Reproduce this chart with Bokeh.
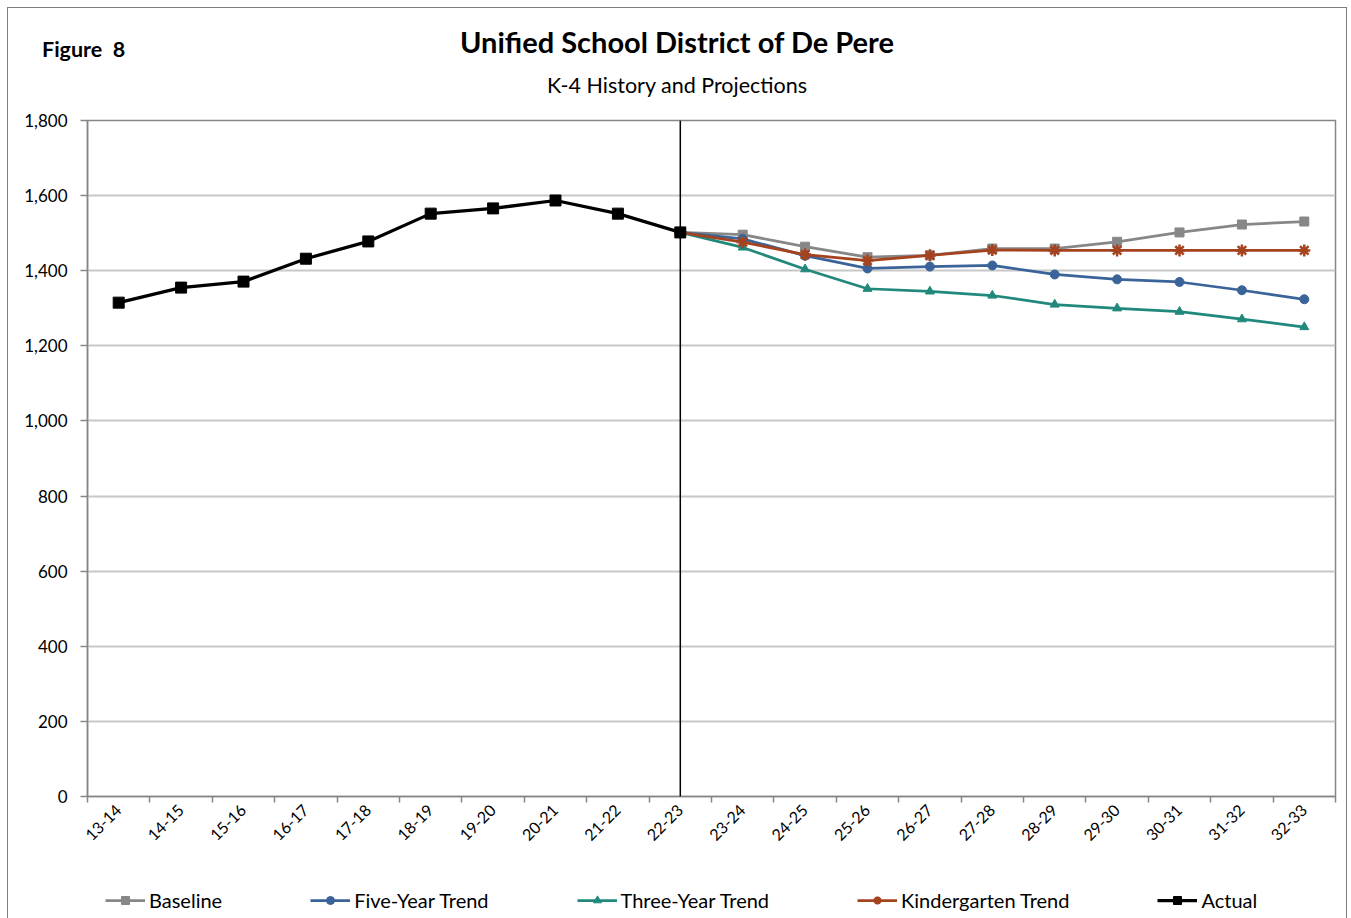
import numpy as np
from bokeh.plotting import figure
from bokeh.layouts import column
from bokeh.models import (FixedTicker, NumeralTickFormatter, Span, Legend,
                          LegendItem, Range1d, Div)
from bokeh.embed import file_html
from bokeh.resources import INLINE

categories = ["13-14", "14-15", "15-16", "16-17", "17-18", "18-19", "19-20",
              "20-21", "21-22", "22-23", "23-24", "24-25", "25-26", "26-27",
              "27-28", "28-29", "29-30", "30-31", "31-32", "32-33"]
actual = [1315, 1355, 1371, 1432, 1478, 1552, 1566, 1587, 1552, 1502]
proj_categories = categories[9:]
baseline = [1502, 1496, 1464, 1436, 1441, 1459, 1459, 1477, 1502, 1523, 1531]
five_year = [1502, 1485, 1440, 1406, 1411, 1414, 1390, 1377, 1370, 1348, 1324]
three_year = [1502, 1462, 1404, 1352, 1345, 1334, 1310, 1300, 1291, 1271, 1250]
kindergarten = [1502, 1476, 1443, 1427, 1441, 1455, 1454, 1454, 1454, 1454, 1454]
y_ticks = [0, 200, 400, 600, 800, 1000, 1200, 1400, 1600, 1800]
series_names = ["Baseline", "Five-Year Trend", "Three-Year Trend",
                "Kindergarten Trend", "Actual"]

title_text = "Unified School District of De Pere"
subtitle_text = "K-4 History and Projections"
figure_text = "Figure&nbsp;&nbsp;8"

FONT = "Lato"
W = 1338
pos = {c: i + 0.5 for i, c in enumerate(categories)}
xa = [pos[c] for c in categories[:len(actual)]]
xp = [pos[c] for c in proj_categories]

GRAY = "#878787"
BLUE = "#3a6499"
TEAL = "#21897b"
BROWN = "#a5431f"

header = Div(width=W, height=100, margin=0, text=f"""
<div style="position:relative;width:{W}px;height:100px;font-family:{FONT};color:#000;">
  <div style="position:absolute;left:0;top:17px;width:{W}px;text-align:center;
       font-size:29px;font-weight:bold;line-height:34px;white-space:nowrap;">{title_text}</div>
  <div style="position:absolute;left:0;top:65px;width:{W}px;text-align:center;
       font-size:21.5px;line-height:25px;white-space:nowrap;">{subtitle_text}</div>
  <div style="position:absolute;left:34px;top:29px;font-size:21.5px;font-weight:bold;
       line-height:25px;white-space:nowrap;">{figure_text}</div>
</div>""")

p = figure(width=W, height=750, frame_width=1248, frame_height=676,
           output_backend="svg", toolbar_location=None,
           x_range=Range1d(0, len(categories)), y_range=Range1d(0, 1800),
           min_border_left=79, min_border_right=11, min_border_top=12,
           min_border_bottom=62)
p.outline_line_color = "#868686"
p.outline_line_width = 1.5

# axes
p.xaxis.ticker = FixedTicker(ticks=[pos[c] for c in categories],
                             minor_ticks=list(range(len(categories) + 1)))
p.xaxis.major_label_overrides = {pos[c]: c for c in categories}
p.xaxis.major_label_orientation = np.pi / 4
p.xaxis.major_tick_line_color = None
p.xaxis.minor_tick_line_color = "#868686"
p.xaxis.minor_tick_out = 6
p.xaxis.minor_tick_in = 0
p.xaxis.minor_tick_line_width = 1.5
p.xaxis.axis_line_color = "#868686"
p.xaxis.axis_line_width = 1.5
p.xaxis.major_label_text_font = FONT
p.xaxis.major_label_text_font_size = "16px"
p.xaxis.major_label_text_color = "#000000"
p.xaxis.major_label_standoff = 5

p.yaxis.ticker = FixedTicker(ticks=y_ticks)
p.yaxis.formatter = NumeralTickFormatter(format="0,0")
p.yaxis.minor_tick_line_color = None
p.yaxis.major_tick_out = 7
p.yaxis.major_tick_in = 0
p.yaxis.major_tick_line_color = "#868686"
p.yaxis.major_tick_line_width = 1.5
p.yaxis.axis_line_color = "#868686"
p.yaxis.axis_line_width = 1.5
p.yaxis.major_label_text_font = FONT
p.yaxis.major_label_text_font_size = "17px"
p.yaxis.major_label_text_color = "#000000"
p.yaxis.major_label_standoff = 13

p.xgrid.grid_line_color = None
p.ygrid.grid_line_color = "#c8c8c8"
p.ygrid.grid_line_width = 2

# divider line at last actual year
p.add_layout(Span(location=pos["22-23"], dimension="height", line_color="black",
                  line_width=1.5))


def draw(fig, scale=1.0):
    r = []
    r.append((fig.line(xp, baseline, line_color=GRAY, line_width=2.75),
              fig.scatter(xp, baseline, marker="square", size=9 * scale,
                          fill_color=GRAY, line_color=GRAY)))
    r.append((fig.line(xp, five_year, line_color=BLUE, line_width=2.75),
              fig.scatter(xp, five_year, marker="circle", size=9 * scale,
                          fill_color=BLUE, line_color=BLUE)))
    r.append((fig.line(xp, three_year, line_color=TEAL, line_width=2.75),
              fig.scatter(xp, three_year, marker="triangle", size=9 * scale,
                          fill_color=TEAL, line_color=TEAL)))
    r.append((fig.line(xp, kindergarten, line_color=BROWN, line_width=2.75),
              fig.scatter(xp, kindergarten, marker="asterisk", size=12 * scale,
                          line_color=BROWN, line_width=2.5)))
    r.append((fig.line(xa, actual, line_color="black", line_width=3.25),
              fig.scatter(xa, actual, marker="square", size=11 * scale,
                          fill_color="black", line_color="black")))
    return r


draw(p)

# legend strip below the chart (same series, legend only)
lg = figure(width=W, height=60, output_backend="svg", toolbar_location=None,
            x_range=Range1d(0, len(categories)), y_range=Range1d(0, 1),
            x_axis_type=None, y_axis_type=None, title=None,
            min_border=0, outline_line_color=None)
lg.grid.visible = False
lr = draw(lg, scale=0.8)
legend = Legend(items=[LegendItem(label=n, renderers=list(rs))
                       for n, rs in zip(series_names, lr)],
                orientation="horizontal", location=(18, 6), spacing=88,
                glyph_width=40, glyph_height=20, label_height=20, label_standoff=4,
                padding=0, margin=0, border_line_color=None, background_fill_alpha=0,
                label_text_font=FONT, label_text_font_size="20px",
                label_text_color="#000000")
lg.add_layout(legend)

layout = column(header, p, lg, spacing=0,
                styles={"border": "1px solid #7f7f7f", "margin-left": "7px",
                        "margin-top": "7px"})

open("out.html", "w").write(file_html(layout, INLINE))
